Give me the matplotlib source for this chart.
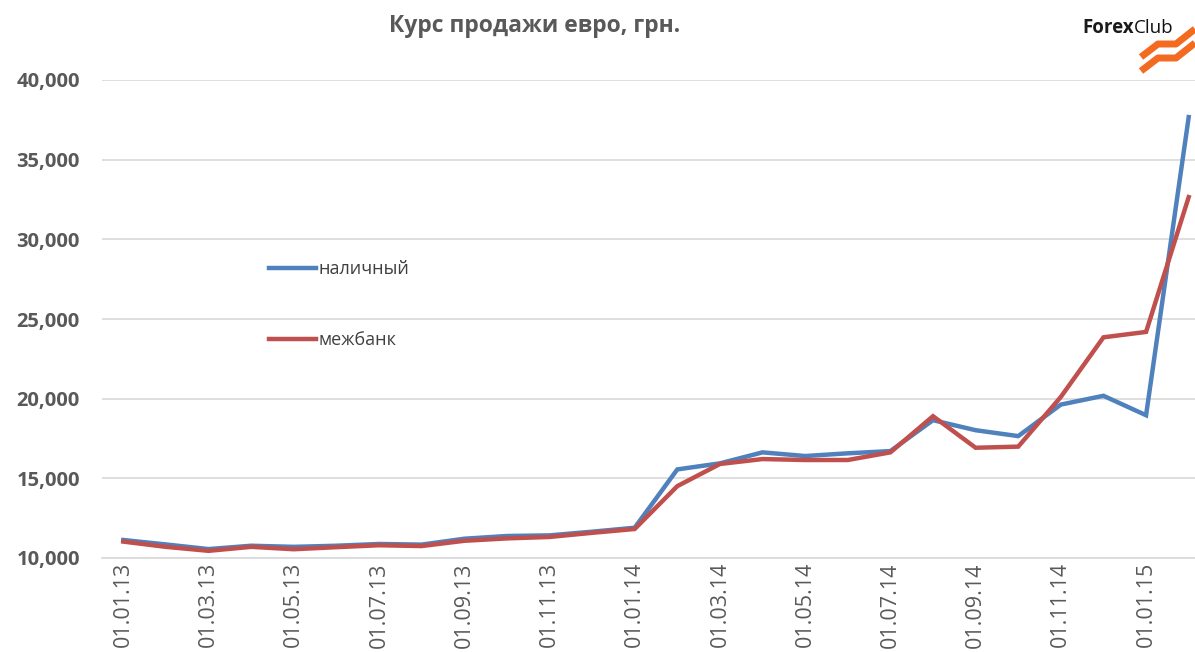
import numpy as np
import matplotlib
matplotlib.use('Agg')
import matplotlib.pyplot as plt
from matplotlib.lines import Line2D
import matplotlib.ticker as mtick

plt.rcParams['font.family'] = ['Open Sans', 'DejaVu Sans']

# monthly dates 01.01.13 .. 01.02.15
dates = ['01.01.13', '01.02.13', '01.03.13', '01.04.13', '01.05.13', '01.06.13',
         '01.07.13', '01.08.13', '01.09.13', '01.10.13', '01.11.13', '01.12.13',
         '01.01.14', '01.02.14', '01.03.14', '01.04.14', '01.05.14', '01.06.14',
         '01.07.14', '01.08.14', '01.09.14', '01.10.14', '01.11.14', '01.12.14',
         '01.01.15', '01.02.15']
cash = [11130, 10850, 10560, 10770, 10700, 10770, 10880, 10840, 11210, 11380,
        11420, 11650, 11900, 15560, 15940, 16630, 16400, 16570, 16710, 18650,
        18020, 17650, 19630, 20180, 18960, 37670]
interbank = [11030, 10700, 10450, 10700, 10550, 10680, 10800, 10750, 11080, 11230,
             11320, 11580, 11820, 14510, 15900, 16210, 16150, 16150, 16630, 18900,
             16920, 16990, 20110, 23850, 24190, 32650]

W, H = 1195, 652
fig = plt.figure(figsize=(W / 100, H / 100), dpi=100)
fig.patch.set_facecolor('white')

# axes in pixel terms
left, right, bottom, top = 102, 1210, 558, 80
ax = fig.add_axes([left / W, 1 - bottom / H, (right - left) / W, (bottom - top) / H])

x = np.arange(len(dates))
ax.plot(x, cash, color='#4F81BD', lw=3.2, solid_joinstyle='miter', label='наличный')
ax.plot(x, interbank, color='#C0504D', lw=3.2, solid_joinstyle='miter', label='межбанк')

ax.set_xlim(-0.5, len(dates) - 0.5)
ax.set_ylim(10000, 40000)
ax.set_yticks(np.arange(10000, 40001, 5000))
ax.yaxis.set_major_formatter(mtick.FuncFormatter(lambda v, p: '{:,.0f}'.format(v)))
ax.set_xticks(x[::2])
ax.set_xticklabels(dates[::2], rotation=90)

ax.grid(axis='y', color='#D9D9D9', lw=1.2)
ax.set_axisbelow(True)
for s in ['top', 'right', 'left']:
    ax.spines[s].set_visible(False)
ax.spines['bottom'].set_color('#D9D9D9')
ax.spines['bottom'].set_linewidth(1.2)
ax.tick_params(axis='both', length=0)
ax.tick_params(axis='x', labelsize=15.5, labelcolor='#595959', pad=3)
ax.tick_params(axis='y', labelsize=14.5, labelcolor='#595959', pad=16)
for t in ax.get_yticklabels():
    t.set_fontweight('bold')

fig.text(535 / W, 1 - 26 / H, 'Курс продажи евро, грн.', ha='center', va='center',
         fontsize=16.5, fontweight='bold', color='#595959')

leg = ax.legend(loc='upper left', bbox_to_anchor=((262 - left) / (right - left), (bottom - 253) / (bottom - top)),
                frameon=False, fontsize=13, handlelength=2.6, handletextpad=0.15,
                labelspacing=2.95, borderaxespad=0)
for t in leg.get_texts():
    t.set_color('#404040')

# logo
fig.text(1082 / W, 1 - 28 / H, 'Forex', ha='left', va='center', fontsize=13.5,
         fontweight='bold', color='#1a1a1a')
fig.text(1134 / W, 1 - 28 / H, 'Club', ha='left', va='center', fontsize=13.5,
         color='#111111')
for dy in [0, 14]:
    xs = np.array([1141, 1158, 1176, 1195])
    ys = np.array([57, 44, 44, 29]) + dy
    fig.lines.append(Line2D(xs / W, 1 - ys / H, transform=fig.transFigure,
                            color='#F26B21', lw=5, solid_capstyle='butt'))

fig.savefig('out.png', dpi=100)
